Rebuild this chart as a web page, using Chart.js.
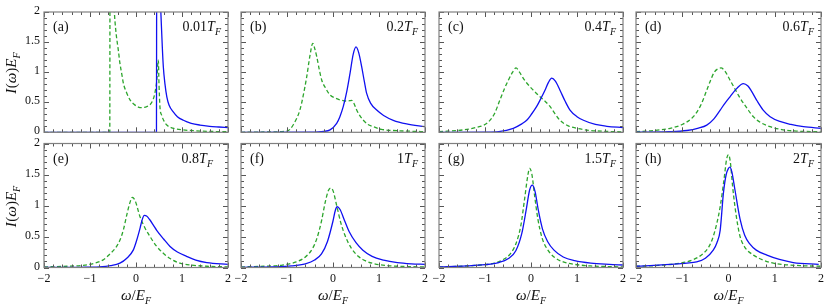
<!DOCTYPE html>
<html>
<head>
<meta charset="utf-8">
<script src="https://cdn.jsdelivr.net/npm/chart.js@4.4.1/dist/chart.umd.min.js"></script>
<style>
  html, body { margin: 0; padding: 0; background: #fff; }
  #wrap { position: relative; width: 830px; height: 306px; }
  #wrap canvas { position: absolute; left: 0; top: 0; }
</style>
</head>
<body>
<div id="wrap"></div>
<script>
// ---------------- data ----------------
const panelTags = ['(a)', '(b)', '(c)', '(d)', '(e)', '(f)', '(g)', '(h)'];
const temperatures = ['0.01', '0.2', '0.4', '0.6', '0.8', '1', '1.5', '2'];
const xTicks = [-2, -1, 0, 1, 2];
const xTickLabels = ['\u22122', '\u22121', '0', '1', '2'];
const yTicks = [0, 0.5, 1, 1.5, 2];
const yTickLabels = ['0', '0.5', '1', '1.5', '2'];

// (a) 0.01 T_F
const aGreenW = [-2, -0.57, -0.565, -0.55, -0.5, -0.47, -0.44, -0.4, -0.385, -0.35, -0.3, -0.276, -0.2, -0.13, -0.05, 0.05, 0.12, 0.2, 0.3, 0.37, 0.41, 0.45, 0.485, 0.5, 0.52, 0.56, 0.6, 0.67, 0.8, 1.03, 1.3, 1.6, 2.0];
const aGreenI = [0, 0, 2.6, 3.4, 2.6, 2.0, 1.7, 1.45, 1.37, 1.15, 0.93, 0.82, 0.65, 0.54, 0.47, 0.42, 0.41, 0.42, 0.455, 0.54, 0.65, 0.85, 1.2, 0.8, 0.43, 0.28, 0.2, 0.12, 0.07, 0.04, 0.025, 0.015, 0.01];
const aBlueW = [-2, 0.445, 0.45, 0.47, 0.5, 0.54, 0.57, 0.594, 0.63, 0.67, 0.72, 0.81, 0.9, 1.03, 1.2, 1.39, 1.6, 1.8, 2.0];
const aBlueI = [0, 0, 3.0, 3.5, 2.7, 2.0, 1.45, 1.09, 0.8, 0.59, 0.45, 0.34, 0.26, 0.2, 0.15, 0.12, 0.1, 0.088, 0.077];

// (b) 0.2 T_F
const bGreenW = [-2, -1.5, -1.0, -0.86, -0.72, -0.65, -0.57, -0.5, -0.44, -0.4, -0.354, -0.3, -0.246, -0.15, -0.065, 0.05, 0.15, 0.28, 0.36, 0.406, 0.45, 0.515, 0.58, 0.66, 0.76, 0.876, 1.05, 1.31, 1.6, 2.0];
const bGreenI = [0, 0.005, 0.02, 0.13, 0.37, 0.6, 0.93, 1.28, 1.48, 1.4, 1.26, 1.05, 0.87, 0.72, 0.62, 0.57, 0.54, 0.52, 0.525, 0.53, 0.49, 0.37, 0.28, 0.2, 0.13, 0.094, 0.05, 0.03, 0.02, 0.01];
const bBlueW = [-2, -0.5, -0.2, -0.065, 0.08, 0.15, 0.224, 0.3, 0.37, 0.44, 0.5, 0.56, 0.623, 0.68, 0.73, 0.82, 0.95, 1.1, 1.31, 1.6, 2.0];
const bBlueI = [0, 0.003, 0.015, 0.04, 0.15, 0.26, 0.43, 0.68, 0.98, 1.3, 1.42, 1.32, 1.09, 0.85, 0.65, 0.48, 0.37, 0.28, 0.2, 0.14, 0.094];

// (c) 0.4 T_F
const cGreenW = [-2, -1.47, -1.2, -0.96, -0.8, -0.674, -0.58, -0.49, -0.4, -0.326, -0.25, -0.17, -0.093, 0.05, 0.196, 0.3, 0.413, 0.52, 0.63, 0.8, 0.99, 1.3, 1.65, 2.0];
const cGreenI = [0.01, 0.04, 0.08, 0.15, 0.3, 0.54, 0.72, 0.87, 1.0, 1.07, 1.0, 0.9, 0.82, 0.7, 0.59, 0.52, 0.43, 0.31, 0.2, 0.11, 0.067, 0.03, 0.015, 0.008];
const cBlueW = [-2, -1.0, -0.7, -0.385, -0.2, -0.093, 0.0, 0.124, 0.22, 0.304, 0.38, 0.45, 0.53, 0.63, 0.74, 0.848, 1.0, 1.14, 1.4, 1.65, 2.0];
const cBlueI = [0, 0.003, 0.012, 0.067, 0.14, 0.2, 0.29, 0.43, 0.57, 0.7, 0.83, 0.9, 0.85, 0.7, 0.52, 0.37, 0.26, 0.2, 0.13, 0.1, 0.08];

// (d) 0.6 T_F
const dGreenW = [-2, -1.6, -1.265, -1.0, -0.76, -0.6, -0.47, -0.38, -0.307, -0.24, -0.162, -0.08, 0.032, 0.14, 0.25, 0.4, 0.536, 0.7, 0.897, 1.15, 1.47, 2.0];
const dGreenI = [0.01, 0.03, 0.067, 0.13, 0.26, 0.45, 0.7, 0.88, 1.0, 1.05, 1.07, 1.02, 0.87, 0.72, 0.57, 0.4, 0.26, 0.16, 0.094, 0.045, 0.02, 0.008];
const dBlueW = [-2, -1.3, -0.9, -0.65, -0.47, -0.32, -0.18, -0.07, 0.032, 0.18, 0.32, 0.42, 0.5, 0.62, 0.75, 0.9, 1.11, 1.35, 1.62, 2.0];
const dBlueI = [0.002, 0.01, 0.03, 0.07, 0.12, 0.22, 0.37, 0.49, 0.59, 0.73, 0.81, 0.77, 0.68, 0.52, 0.37, 0.26, 0.18, 0.13, 0.094, 0.067];

// (e) 0.8 T_F
const eGreenW = [-2, -1.5, -1.15, -0.9, -0.7, -0.565, -0.45, -0.35, -0.27, -0.2, -0.13, -0.08, -0.02, 0.087, 0.2, 0.304, 0.45, 0.594, 0.75, 0.957, 1.2, 1.54, 2.0];
const eGreenI = [0.01, 0.02, 0.035, 0.07, 0.13, 0.22, 0.31, 0.44, 0.62, 0.85, 1.05, 1.13, 1.08, 0.82, 0.63, 0.5, 0.34, 0.23, 0.14, 0.07, 0.04, 0.02, 0.01];
const eBlueW = [-2, -1.2, -0.8, -0.55, -0.35, -0.2, -0.06, 0.015, 0.09, 0.13, 0.18, 0.23, 0.3, 0.38, 0.45, 0.6, 0.74, 0.9, 1.1, 1.3, 1.54, 2.0];
const eBlueI = [0.0, 0.003, 0.01, 0.03, 0.07, 0.15, 0.28, 0.44, 0.64, 0.76, 0.84, 0.83, 0.77, 0.68, 0.6, 0.46, 0.34, 0.25, 0.18, 0.12, 0.08, 0.05];

// (f) 1 T_F
const fGreenW = [-2, -1.5, -1.1, -0.8, -0.6, -0.45, -0.35, -0.25, -0.17, -0.1, -0.05, 0.0, 0.08, 0.17, 0.27, 0.4, 0.55, 0.7, 0.9, 1.2, 1.6, 2.0];
const fGreenI = [0.01, 0.02, 0.04, 0.09, 0.17, 0.3, 0.47, 0.75, 1.05, 1.24, 1.28, 1.24, 1.0, 0.72, 0.5, 0.31, 0.18, 0.11, 0.06, 0.03, 0.015, 0.01];
const fBlueW = [-2, -1.3, -0.9, -0.6, -0.4, -0.25, -0.12, 0.0, 0.05, 0.09, 0.15, 0.25, 0.35, 0.5, 0.65, 0.85, 1.1, 1.4, 1.7, 2.0];
const fBlueI = [0.003, 0.01, 0.025, 0.06, 0.12, 0.22, 0.42, 0.75, 0.92, 0.98, 0.94, 0.76, 0.58, 0.4, 0.28, 0.18, 0.12, 0.08, 0.06, 0.05];

// (g) 1.5 T_F
const gGreenW = [-2, -1.5, -1.1, -0.8, -0.6, -0.45, -0.33, -0.22, -0.14, -0.07, -0.03, 0.02, 0.08, 0.15, 0.24, 0.35, 0.5, 0.7, 0.95, 1.3, 1.7, 2.0];
const gGreenI = [0.01, 0.02, 0.04, 0.07, 0.13, 0.22, 0.38, 0.68, 1.1, 1.48, 1.6, 1.5, 1.15, 0.78, 0.48, 0.3, 0.17, 0.09, 0.05, 0.025, 0.015, 0.01];
const gBlueW = [-2, -1.4, -1.0, -0.7, -0.5, -0.33, -0.2, -0.1, -0.03, 0.03, 0.09, 0.16, 0.25, 0.36, 0.5, 0.7, 0.95, 1.3, 1.7, 2.0];
const gBlueI = [0.01, 0.025, 0.045, 0.08, 0.14, 0.27, 0.55, 0.95, 1.25, 1.33, 1.22, 0.92, 0.62, 0.42, 0.28, 0.17, 0.11, 0.07, 0.05, 0.04];

// (h) 2 T_F
const hGreenW = [-2, -1.6, -1.05, -0.75, -0.54, -0.42, -0.33, -0.25, -0.18, -0.1, -0.04, 0.0, 0.04, 0.09, 0.14, 0.2, 0.25, 0.35, 0.54, 0.75, 0.97, 1.55, 2.0];
const hGreenI = [0.02, 0.03, 0.07, 0.13, 0.23, 0.34, 0.5, 0.72, 0.98, 1.4, 1.75, 1.82, 1.7, 1.3, 0.98, 0.68, 0.5, 0.33, 0.2, 0.12, 0.07, 0.03, 0.02];
const hBlueW = [-2, -1.7, -1.27, -0.9, -0.69, -0.5, -0.33, -0.25, -0.18, -0.11, -0.05, 0.0, 0.03, 0.07, 0.14, 0.25, 0.35, 0.46, 0.6, 0.83, 1.1, 1.4, 1.95];
const hBlueI = [0.02, 0.03, 0.05, 0.07, 0.09, 0.15, 0.28, 0.4, 0.6, 1.2, 1.5, 1.6, 1.62, 1.55, 1.25, 0.78, 0.52, 0.38, 0.28, 0.2, 0.13, 0.08, 0.05];

const greenSeries = [[aGreenW, aGreenI], [bGreenW, bGreenI], [cGreenW, cGreenI], [dGreenW, dGreenI],
                     [eGreenW, eGreenI], [fGreenW, fGreenI], [gGreenW, gGreenI], [hGreenW, hGreenI]];
const blueSeries = [[aBlueW, aBlueI], [bBlueW, bBlueI], [cBlueW, cBlueI], [dBlueW, dBlueI],
                    [eBlueW, eBlueI], [fBlueW, fBlueI], [gBlueW, gBlueI], [hBlueW, hBlueI]];

// ---------------- layout ----------------
const W = 830, H = 306;
const colLeft = [44, 241, 439, 636];
const colRight = [228, 425, 623, 821];
const rowTop = [12, 143.5];
const rowBottom = [132.3, 267.5];
const SERIF = '"Liberation Serif", "DejaVu Serif", serif';
const BLUE = '#1010f0';
const GREEN = '#2ca52c';

function drawRich(ctx, parts, x, y, align) {
  // parts: [text, italic, sub, size, extraSpace]
  let total = 0;
  const widths = parts.map(p => {
    ctx.font = (p[1] ? 'italic ' : '') + p[3] + 'px ' + SERIF;
    const w = ctx.measureText(p[0]).width + (p[4] || 0);
    total += w;
    return w;
  });
  let cx = align === 'right' ? x - total : align === 'center' ? x - total / 2 : x;
  parts.forEach((p, i) => {
    ctx.font = (p[1] ? 'italic ' : '') + p[3] + 'px ' + SERIF;
    ctx.fillText(p[0], cx, y + (p[2] ? 4 : 0));
    cx += widths[i];
  });
}

function framePlugin(idx) {
  const row = Math.floor(idx / 4), col = idx % 4;
  return {
    id: 'frame' + idx,
    afterDraw(chart) {
      const { ctx, chartArea: ca, scales } = chart;
      const xs = scales.x, ys = scales.y;
      ctx.save();
      // ticks
      ctx.strokeStyle = '#555';
      ctx.lineWidth = 1;
      for (let k = -10; k <= 10; k++) {
        const px = Math.round(xs.getPixelForValue(k / 5)) + 0.5;
        const len = (k % 5 === 0) ? 5 : 3;
        ctx.beginPath();
        ctx.moveTo(px, ca.bottom); ctx.lineTo(px, ca.bottom - len);
        ctx.moveTo(px, ca.top); ctx.lineTo(px, ca.top + len);
        ctx.stroke();
      }
      for (let k = 0; k <= 20; k++) {
        const py = Math.round(ys.getPixelForValue(k / 10)) + 0.5;
        const len = (k % 5 === 0) ? 5 : 3;
        ctx.beginPath();
        ctx.moveTo(ca.left, py); ctx.lineTo(ca.left + len, py);
        ctx.moveTo(ca.right, py); ctx.lineTo(ca.right - len, py);
        ctx.stroke();
      }
      // frame
      ctx.strokeStyle = '#808080';
      ctx.lineWidth = 1.2;
      ctx.strokeRect(ca.left, ca.top, ca.right - ca.left, ca.bottom - ca.top);

      ctx.fillStyle = '#111';
      ctx.textBaseline = 'alphabetic';
      // tick labels
      if (col === 0) {
        ctx.font = '12px ' + SERIF;
        ctx.textAlign = 'right';
        ctx.textBaseline = 'middle';
        yTicks.forEach((v, i) => ctx.fillText(yTickLabels[i], ca.left - 4, ys.getPixelForValue(v) - 1));
        ctx.textBaseline = 'alphabetic';
        ctx.textAlign = 'left';
        // y axis title
        ctx.save();
        ctx.translate(16, (ca.top + ca.bottom) / 2 + 1);
        ctx.rotate(-Math.PI / 2);
        drawRich(ctx, [['I', true, false, 15, 0.5], ['(', false, false, 15], ['\u03c9', true, false, 15], [')', false, false, 15],
                       ['E', true, false, 15], ['F', true, true, 10]], 0, 0, 'center');
        ctx.restore();
      }
      if (row === 1) {
        ctx.font = '12px ' + SERIF;
        ctx.textAlign = 'center';
        xTicks.forEach((v, i) => ctx.fillText(xTickLabels[i], xs.getPixelForValue(v), 282));
        ctx.textAlign = 'left';
        drawRich(ctx, [['\u03c9', true, false, 15], ['/', false, false, 15], ['E', true, false, 15], ['F', true, true, 10]],
                 (ca.left + ca.right) / 2, 300, 'center');
      }
      // panel labels
      ctx.textAlign = 'left';
      const by = ca.top + 19;
      drawRich(ctx, [[panelTags[idx], false, false, 14]], ca.left + 9, by, 'left');
      const rOff = idx === 4 ? 15 : 7;
      drawRich(ctx, [[temperatures[idx], false, false, 14], ['T', true, false, 14], ['F', true, true, 10]],
               ca.right - rOff, by, 'right');
      ctx.restore();
    }
  };
}

const wrap = document.getElementById('wrap');
for (let idx = 0; idx < 8; idx++) {
  const row = Math.floor(idx / 4), col = idx % 4;
  const cv = document.createElement('canvas');
  cv.width = W; cv.height = H;
  cv.style.width = W + 'px'; cv.style.height = H + 'px';
  wrap.appendChild(cv);
  const g = greenSeries[idx], b = blueSeries[idx];
  new Chart(cv.getContext('2d'), {
    type: 'line',
    data: {
      datasets: [
        {
          data: b[0].map((w, i) => ({ x: w, y: b[1][i] })),
          borderColor: BLUE, borderWidth: 1.3, pointRadius: 0, fill: false,
          cubicInterpolationMode: 'monotone'
        },
        {
          data: g[0].map((w, i) => ({ x: w, y: g[1][i] })),
          borderColor: GREEN, borderWidth: 1.3, borderDash: [4, 2.5], pointRadius: 0, fill: false,
          cubicInterpolationMode: 'monotone'
        }
      ]
    },
    options: {
      responsive: false,
      animation: false,
      devicePixelRatio: 1,
      layout: { padding: { left: colLeft[col], right: W - colRight[col], top: rowTop[row], bottom: H - rowBottom[row] } },
      plugins: { legend: { display: false }, tooltip: { enabled: false } },
      scales: {
        x: { type: 'linear', min: -2, max: 2, display: false },
        y: { type: 'linear', min: 0, max: 2, display: false }
      }
    },
    plugins: [framePlugin(idx)]
  });
}
</script>
</body>
</html>
